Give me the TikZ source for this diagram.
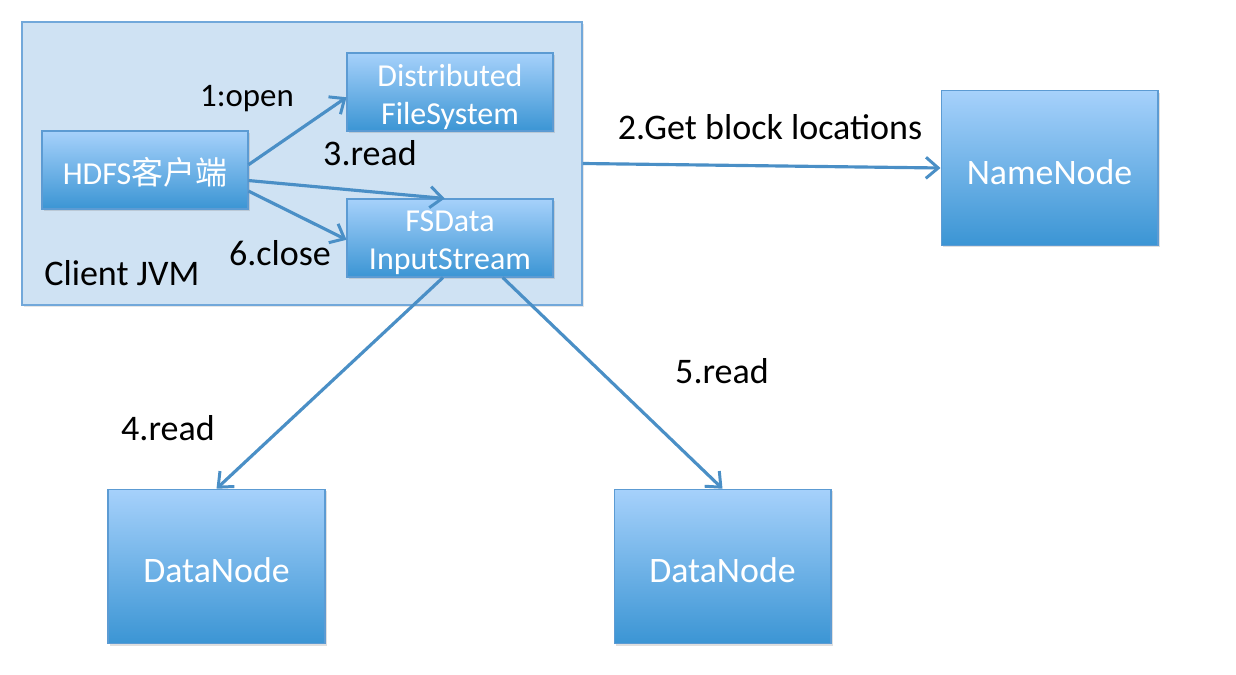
\documentclass[tikz,border=0pt]{standalone}
\usepackage{fontspec}
\setmainfont{Carlito}
\newfontfamily\cjk{Noto Sans CJK SC}
\usetikzlibrary{arrows.meta,shadows}
\definecolor{boxtop}{HTML}{A6D1FB}
\definecolor{boxbot}{HTML}{3B95D4}
\definecolor{boxedge}{HTML}{5C9BD3}
\definecolor{jvmfill}{HTML}{CFE2F3}
\definecolor{jvmedge}{HTML}{72A8DA}
\definecolor{arrowc}{HTML}{4A8FC6}
\tikzset{
  box/.style={draw=boxedge, line width=0.6pt, top color=boxtop, bottom color=boxbot,
    inner sep=0pt,
    drop shadow={opacity=0.25, shadow xshift=1pt, shadow yshift=-1.2pt}},
  smallbox/.style={box, minimum width=4.12cm, minimum height=1.56cm},
  bigbox/.style={box, minimum width=4.34cm, minimum height=3.09cm},
  smalltext/.style={text=white, inner sep=0pt, align=center, font=\fontsize{18.2}{21.5}\selectfont},
  bigtext/.style={text=white, inner sep=0pt, align=center, font=\fontsize{20.4}{22}\selectfont},
  lbl/.style={font=\fontsize{20.5}{22}\selectfont, text=black, inner sep=0pt},
  conn/.style={draw=arrowc, line width=1.8pt, -{Straight Barb[length=7pt,width=12pt,line width=1.7pt]}}
}
\begin{document}
\begin{tikzpicture}[x=0.02cm,y=-0.02cm]
\useasboundingbox (0,0) rectangle (1236,675);
\node[draw=jvmedge, line width=1pt, fill=jvmfill, minimum width=11.2cm, minimum height=5.66cm, inner sep=0pt,
  drop shadow={opacity=0.2, shadow xshift=1pt, shadow yshift=-1pt}] (jvm) at (302,163.5) {};
\node[lbl, anchor=west] (jvmlbl) at (44,273) {Client JVM};
\node[smallbox] (dfs) at (450,92) {};
\node[smallbox] (hdfs) at (145,170) {};
\node[smallbox] (fs) at (450,238) {};
\node[bigbox] (nn) at (1049.5,168) {};
\node[bigbox] (dn1) at (216.5,566.5) {};
\node[bigbox] (dn2) at (722.5,566.5) {};
\node[smalltext] (dfst) at ([yshift=-2.8pt]dfs.center) {Distributed\\FileSystem};
\node[smalltext] (hdfst) at ([yshift=-1.5pt]hdfs.center) {HDFS{\cjk 客户端}};
\node[smalltext] (fst) at ([yshift=-2.8pt]fs.center) {FSData\\InputStream};
\node[bigtext] (nnt) at ([yshift=-2.3pt]nn.center) {NameNode};
\node[bigtext] (dn1t) at ([yshift=-2.3pt]dn1.center) {DataNode};
\node[bigtext] (dn2t) at ([yshift=-2.3pt]dn2.center) {DataNode};
\draw[conn] ([yshift=3pt]hdfs.east) -- ([yshift=-3pt]dfs.west);
\draw[conn] ([yshift=-6pt]hdfs.east) -- ([xshift=-3pt]fs.north);
\draw[conn] ([yshift=-12pt]hdfs.east) -- ([yshift=-1pt]fs.west);
\draw[conn] (jvm.east) -- (nn.west);
\draw[conn] ([xshift=-4pt]fs.south) -- (dn1.north);
\draw[conn] ([xshift=30pt]fs.south) -- (dn2.north);
\node[lbl, font=\fontsize{18.7}{21}\selectfont] (l1) at (247,99) {1:open};
\node[lbl] (l3) at (370,153) {3.read};
\node[lbl] (l6) at (280,253) {6.close};
\node[lbl] (l2) at (770,127) {2.Get block locations};
\node[lbl] (l4) at (168,428) {4.read};
\node[lbl] (l5) at (722,371) {5.read};
\end{tikzpicture}
\end{document}
